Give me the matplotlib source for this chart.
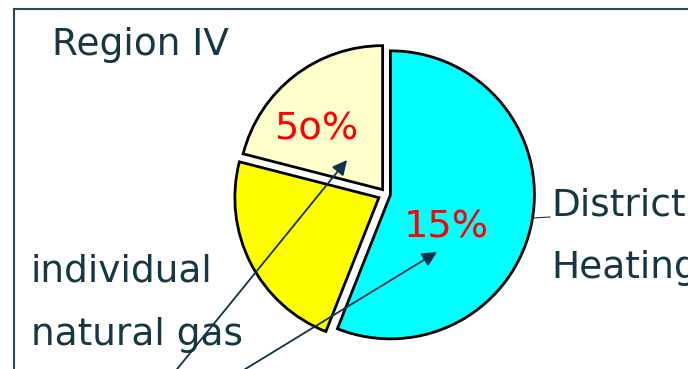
import matplotlib.pyplot as plt

# slice data
shares = [56, 23, 21]
colors = ["#00FFFF", "#FFFF00", "#FFFFCC"]
pct_labels = ["5o%", "15%"]
title = "Region IV"
label_right = ["District", "Heating"]
label_left = ["individual", "natural gas"]

# pie explode is in data units here (radius = 144)
explode = [4.5, 8, 5.5]

txt = "#163744"

fig = plt.figure(figsize=(6.88, 3.69), dpi=100)
ax = fig.add_axes([0, 0, 1, 1])

# pie
ax.pie(shares, colors=colors, explode=explode, startangle=90, counterclock=False,
       center=(386, 175), radius=144, frame=True,
       wedgeprops=dict(edgecolor="black", linewidth=2))
ax.set_xlim(0, 688)
ax.set_ylim(0, 369)
ax.set_aspect("equal")
ax.axis("off")

# frame of the slide box
ax.plot([14, 14], [-5, 360], color="#2b4a55", lw=1.5, clip_on=False)
ax.plot([14, 700], [360, 360], color="#2b4a55", lw=1.5, clip_on=False)

# texts
ax.text(52, 314, title, fontsize=27, color=txt, va="baseline")
ax.text(551, 154, label_right[0], fontsize=27, color=txt, va="baseline")
ax.text(551, 91, label_right[1], fontsize=27, color=txt, va="baseline")
ax.text(31, 87, label_left[0], fontsize=27, color=txt, va="baseline")
ax.text(31, 24, label_left[1], fontsize=27, color=txt, va="baseline")
ax.text(274, 229, pct_labels[0], fontsize=27.5, color="red", va="baseline")
ax.text(404, 131, pct_labels[1], fontsize=27.5, color="red", va="baseline")

# leader line for District Heating
ax.plot([533, 550], [151, 152], color=txt, lw=0.8)

# arrows
arrow = dict(arrowstyle="-|>", mutation_scale=22, lw=1.3, color="#0f3347",
             shrinkA=0, shrinkB=0)
ax.annotate("", xy=(347, 209), xytext=(169, -10), arrowprops=arrow, annotation_clip=False)
ax.annotate("", xy=(437, 117), xytext=(229, -10), arrowprops=arrow, annotation_clip=False)

fig.savefig("out.png", dpi=100, facecolor="white")
